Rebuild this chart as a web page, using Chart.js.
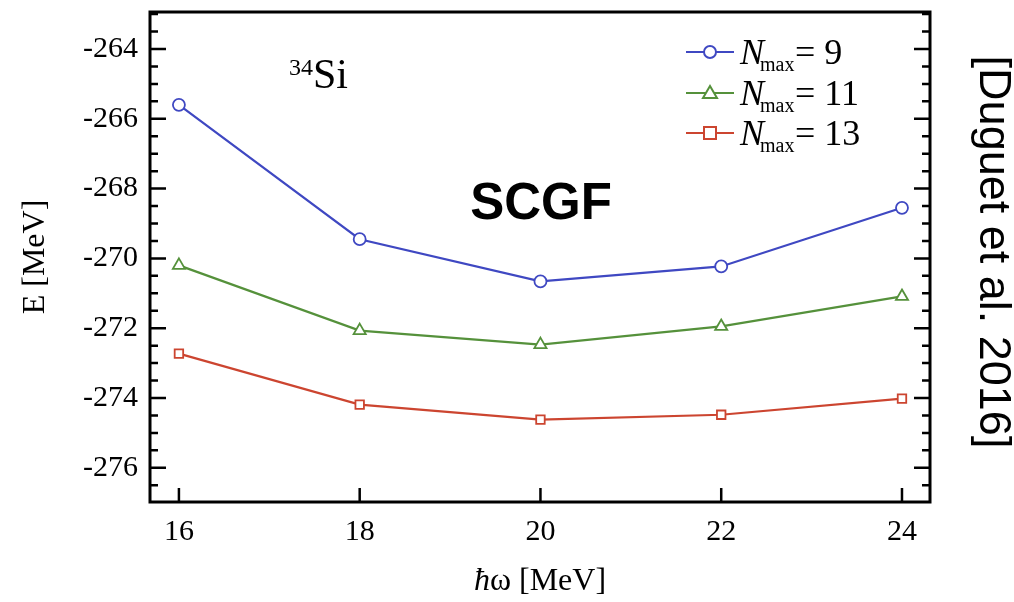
<!DOCTYPE html>
<html>
<head>
<meta charset="utf-8">
<script src="https://cdn.jsdelivr.net/npm/chart.js@4/dist/chart.umd.min.js"></script>
<style>
  html, body { margin: 0; padding: 0; background: #fff; }
  #wrap { width: 1014px; height: 602px; position: relative; }
</style>
</head>
<body>
<div id="wrap"><canvas id="chart" width="1014" height="602"></canvas></div>
<script>
// data
const hbarOmega = [16, 18, 20, 22, 24];
const nmax9  = [-265.6, -269.45, -270.66, -270.23, -268.55];
const nmax11 = [-270.2, -272.07, -272.47, -271.95, -271.09];
const nmax13 = [-272.73, -274.19, -274.62, -274.48, -274.02];
const seriesNames = ['9', '11', '13'];
const yTicks = [-264, -266, -268, -270, -272, -274, -276];

const BLUE = '#3f48c2';
const GREEN = '#55913b';
const RED = '#cc4530';
const SERIF = '"Liberation Serif", "DejaVu Serif", serif';

const toPoints = (vals) => vals.map((v, i) => ({ x: hbarOmega[i], y: v }));

// frame, inward ticks, legend and annotations
const decor = {
  id: 'decor',
  afterDraw(chart) {
    const ctx = chart.ctx;
    const a = chart.chartArea;
    const xs = chart.scales.x, ys = chart.scales.y;
    ctx.save();
    ctx.strokeStyle = '#000';
    ctx.lineWidth = 3;
    ctx.strokeRect(a.left, a.top, a.right - a.left, a.bottom - a.top);

    // y ticks, left and right, minor every 0.5
    ctx.lineWidth = 2.5;
    for (let v = -277; v <= -263; v += 0.5) {
      const py = ys.getPixelForValue(v);
      if (py <= a.top + 2 || py >= a.bottom - 2) continue;
      const major = Math.abs(v % 2) < 1e-6;
      const len = major ? 16 : 8;
      ctx.beginPath();
      ctx.moveTo(a.left, py); ctx.lineTo(a.left + len, py);
      ctx.moveTo(a.right, py); ctx.lineTo(a.right - len, py);
      ctx.stroke();
    }
    // x ticks, bottom only
    hbarOmega.forEach(v => {
      const px = xs.getPixelForValue(v);
      ctx.beginPath();
      ctx.moveTo(px, a.bottom); ctx.lineTo(px, a.bottom - 14);
      ctx.stroke();
    });

    // x title: italic hbar
    ctx.fillStyle = '#000';
    ctx.textBaseline = 'alphabetic';
    ctx.textAlign = 'left';
    const f1 = 'italic 32px ' + SERIF, f2 = '32px ' + SERIF;
    ctx.font = f1; const w1 = ctx.measureText('ħ').width;
    ctx.font = f2; const w2 = ctx.measureText('ω [MeV]').width;
    let tx = 540 - (w1 + w2) / 2;
    ctx.font = f1; ctx.fillText('ħ', tx, 590);
    ctx.font = f2; ctx.fillText('ω [MeV]', tx + w1, 590);

    // 34Si label
    ctx.font = '24px ' + SERIF;
    ctx.fillText('34', 289, 75);
    const sw = ctx.measureText('34').width;
    ctx.font = '42px ' + SERIF;
    ctx.fillText('Si', 289 + sw, 88);

    // SCGF
    ctx.font = 'bold 51px "Liberation Sans", Arial, sans-serif';
    ctx.textAlign = 'center';
    ctx.fillText('SCGF', 541, 219);

    // citation, rotated clockwise
    ctx.save();
    ctx.translate(992, 252);
    ctx.rotate(Math.PI / 2);
    ctx.font = '45px "Liberation Sans", Arial, sans-serif';
    ctx.textAlign = 'center';
    ctx.textBaseline = 'middle';
    ctx.fillText('[Duguet et al. 2016]', 0, 0);
    ctx.restore();

    // legend
    const rows = [52, 93, 133];
    chart.data.datasets.forEach((ds, i) => {
      const y = rows[i];
      ctx.strokeStyle = ds.borderColor;
      ctx.lineWidth = 2;
      ctx.beginPath(); ctx.moveTo(686, y); ctx.lineTo(734, y); ctx.stroke();
      drawMarker(ctx, ds.pointStyle, 710, y, ds.borderColor);
      ctx.fillStyle = '#000';
      ctx.textAlign = 'left';
      ctx.textBaseline = 'alphabetic';
      ctx.font = 'italic 36px ' + SERIF;
      ctx.fillText('N', 740, y + 12);
      ctx.font = '20px ' + SERIF;
      ctx.fillText('max', 760, y + 19);
      ctx.font = '36px ' + SERIF;
      ctx.fillText('= ' + seriesNames[i], 795, y + 12);
    });
    ctx.restore();
  }
};

function drawMarker(ctx, style, x, y, color) {
  ctx.save();
  ctx.fillStyle = '#fff';
  ctx.strokeStyle = color;
  ctx.lineWidth = 2;
  ctx.beginPath();
  if (style === 'circle') {
    ctx.arc(x, y, 6, 0, Math.PI * 2);
  } else if (style === 'triangle') {
    ctx.moveTo(x, y - 7); ctx.lineTo(x + 7, y + 5); ctx.lineTo(x - 7, y + 5); ctx.closePath();
  } else {
    ctx.rect(x - 6, y - 6, 12, 12);
  }
  ctx.fill(); ctx.stroke();
  ctx.restore();
}

const mkSet = (label, vals, color, style) => ({
  label: label,
  data: toPoints(vals),
  borderColor: color,
  backgroundColor: '#fff',
  borderWidth: 2.2,
  pointStyle: style,
  pointRadius: style === 'triangle' ? 7 : 6,
  pointBorderWidth: 1.8,
  pointBackgroundColor: '#fff',
  pointBorderColor: color,
  tension: 0
});

new Chart(document.getElementById('chart'), {
  type: 'line',
  data: {
    datasets: [
      mkSet('Nmax = 9', nmax9, BLUE, 'circle'),
      mkSet('Nmax = 11', nmax11, GREEN, 'triangle'),
      mkSet('Nmax = 13', nmax13, RED, 'rect')
    ]
  },
  options: {
    responsive: false,
    animation: false,
    layout: { padding: { top: 12, right: 84, left: 0, bottom: 0 } },
    plugins: { legend: { display: false }, tooltip: { enabled: false } },
    scales: {
      x: {
        type: 'linear',
        min: 15.68, max: 24.31,
        afterBuildTicks: (s) => { s.ticks = hbarOmega.map(v => ({ value: v })); },
        afterFit: (s) => { s.height = 100; s.paddingLeft = 0; s.paddingRight = 0; },
        grid: { display: false, drawTicks: false },
        border: { display: false },
        ticks: { color: '#000', font: { family: SERIF, size: 30 }, padding: 12, maxRotation: 0 }
      },
      y: {
        min: -276.98, max: -262.94,
        afterBuildTicks: (s) => { s.ticks = yTicks.map(v => ({ value: v })); },
        afterFit: (s) => { s.width = 150; s.paddingTop = 0; s.paddingBottom = 0; },
        grid: { display: false, drawTicks: false },
        border: { display: false },
        ticks: { color: '#000', font: { family: SERIF, size: 30 }, padding: 12 },
        title: { display: true, text: 'E [MeV]', color: '#000', font: { family: SERIF, size: 32 }, padding: { top: 16, bottom: 0 } }
      }
    }
  },
  plugins: [decor]
});
</script>
</body>
</html>
